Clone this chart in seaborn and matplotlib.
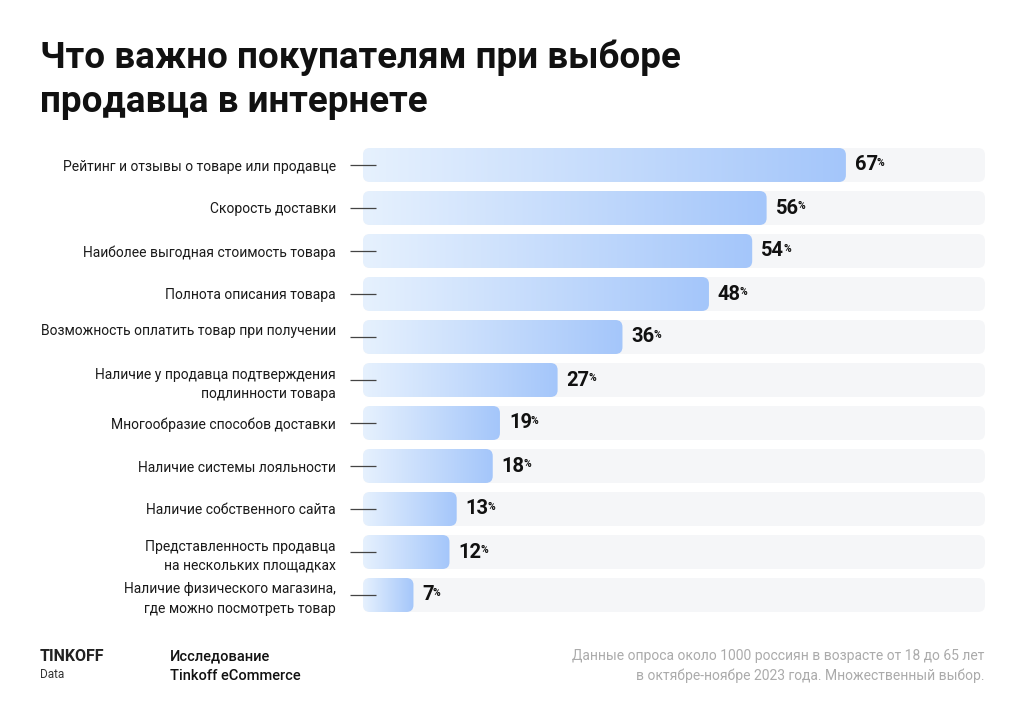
import numpy as np
import pandas as pd
import matplotlib
matplotlib.use("Agg")
import matplotlib.pyplot as plt
from matplotlib.patches import FancyBboxPatch
from matplotlib.colors import LinearSegmentedColormap
import seaborn as sns

# data
categories = [
    "Рейтинг и отзывы о товаре или продавце",
    "Скорость доставки",
    "Наиболее выгодная стоимость товара",
    "Полнота описания товара",
    "Возможность оплатить товар при получении\n ",
    "Наличие у продавца подтверждения\nподлинности товара",
    "Многообразие способов доставки",
    "Наличие системы лояльности",
    "Наличие собственного сайта",
    "Представленность продавца\nна нескольких площадках",
    "Наличие физического магазина,\nгде можно посмотреть товар",
]
values = [67, 56, 54, 48, 36, 27, 19, 18, 13, 12, 7]

df = pd.DataFrame({"cat": categories, "val": values})

sns.set_style("white")
plt.rcParams["font.family"] = ["Roboto", "DejaVu Sans"]

XMAX = 86.3
fig = plt.figure(figsize=(10.24, 7.19), dpi=100)
fig.patch.set_facecolor("white")
ax = fig.add_axes([363 / 1024, 1 - 616.5 / 719, 622 / 1024, 473 / 719])

sns.barplot(data=df, x="val", y="cat", orient="h", ax=ax, width=0.79,
            color="#A6C8FA")

cmap = LinearSegmentedColormap.from_list("blu", ["#E6F1FE", "#A4C6FA"])
grad = np.linspace(0, 1, 256).reshape(1, -1)
# rounding in data units, corrected for the axes aspect
px_x = 622 / XMAX
px_y = 473 / 11
rad = 7 / px_x
asp = px_x / px_y

bars = list(ax.patches)
for p in bars:
    x0, y0 = p.get_x(), p.get_y()
    w, h = p.get_width(), p.get_height()
    p.set_visible(False)
    bg = FancyBboxPatch((0, y0), XMAX, h,
                        boxstyle=f"round,pad=0,rounding_size={rad}",
                        mutation_aspect=asp, fc="#F5F6F8", ec="none",
                        zorder=0, clip_on=False)
    ax.add_patch(bg)
    clip = FancyBboxPatch((x0, y0), w, h,
                          boxstyle=f"round,pad=0,rounding_size={rad}",
                          mutation_aspect=asp, fc="none", ec="none", zorder=1)
    ax.add_patch(clip)
    im = ax.imshow(grad, extent=(x0, x0 + w, y0 + h, y0), cmap=cmap,
                   aspect="auto", zorder=2, interpolation="bicubic")
    im.set_clip_path(clip)
    t = ax.text(x0 + w + 9 / px_x, y0 + h / 2, str(int(round(w))),
                fontsize=14.5, fontweight="bold", color="#111111",
                ha="left", va="center", zorder=3)
    ax.annotate("%", xy=(1, 1), xycoords=t, xytext=(-0.8, -1.5),
                textcoords="offset points", ha="left", va="top",
                fontsize=7.5, fontweight="bold", color="#111111")

ax.set_xlim(0, XMAX)
ax.set_ylim(len(values) - 0.5, -0.5)
ax.set_xlabel("")
ax.set_ylabel("")
ax.set_xticks([])
ax.set_axisbelow(False)
sns.despine(ax=ax, left=True, bottom=True)
ax.tick_params(axis="y", left=True, length=19, direction="inout",
               color="#444444", width=0.9, pad=10, labelsize=10,
               labelcolor="#1a1a1a")
for lab in ax.get_yticklabels():
    lab.set_linespacing(1.5)

# title
fig.text(40 / 1024, 1 - 68 / 719, "Что важно покупателям при выборе",
         fontsize=26.5, fontweight="bold", color="#111111", va="baseline")
fig.text(40 / 1024, 1 - 112 / 719, "продавца в интернете",
         fontsize=26.5, fontweight="bold", color="#111111", va="baseline")

# footer
fig.text(40 / 1024, 1 - 661 / 719, "TINKOFF", fontsize=11.5,
         fontweight="bold", color="#222222", va="baseline")
fig.text(40 / 1024, 1 - 678 / 719, "Data", fontsize=8.5,
         color="#333333", va="baseline")
fig.text(170 / 1024, 1 - 660 / 719, "Исследование", fontsize=10.5,
         fontweight="medium", color="#111111", va="baseline")
fig.text(170 / 1024, 1 - 680 / 719, "Tinkoff eCommerce", fontsize=10.5,
         fontweight="medium", color="#111111", va="baseline")
fig.text(984 / 1024, 1 - 660 / 719,
         "Данные опроса около 1000 россиян в возрасте от 18 до 65 лет",
         fontsize=10, color="#ABABAB", ha="right", va="baseline")
fig.text(984 / 1024, 1 - 680 / 719,
         "в октябре-ноябре 2023 года. Множественный выбор.",
         fontsize=10, color="#ABABAB", ha="right", va="baseline")

fig.savefig("out.png", dpi=100, facecolor="white")
